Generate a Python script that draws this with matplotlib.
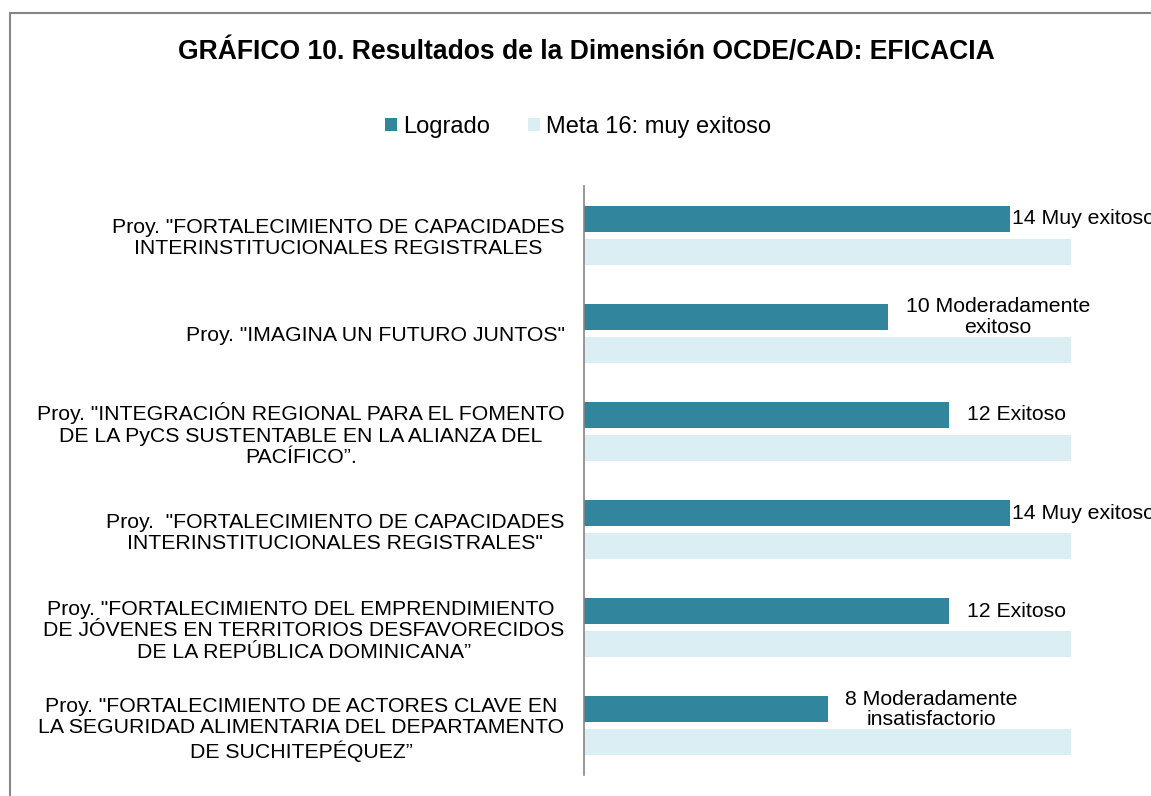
import matplotlib
matplotlib.use("Agg")
import matplotlib.pyplot as plt
from matplotlib.patches import Rectangle, Patch

plt.rcParams['font.family'] = ['Liberation Sans', 'DejaVu Sans']

categories = [
    'Proy. "FORTALECIMIENTO DE CAPACIDADES\nINTERINSTITUCIONALES REGISTRALES',
    'Proy. "IMAGINA UN FUTURO JUNTOS"',
    'Proy. "INTEGRACIÓN REGIONAL PARA EL FOMENTO\nDE LA PyCS SUSTENTABLE EN LA ALIANZA DEL\nPACÍFICO”.',
    'Proy.  "FORTALECIMIENTO DE CAPACIDADES\nINTERINSTITUCIONALES REGISTRALES"',
    'Proy. "FORTALECIMIENTO DEL EMPRENDIMIENTO \nDE JÓVENES EN TERRITORIOS DESFAVORECIDOS\nDE LA REPÚBLICA DOMINICANA”',
    'Proy. "FORTALECIMIENTO DE ACTORES CLAVE EN\nLA SEGURIDAD ALIMENTARIA DEL DEPARTAMENTO\nDE SUCHITEPÉQUEZ”',
]
logrado = [14, 10, 12, 14, 12, 8]
meta = [16, 16, 16, 16, 16, 16]
value_labels = [
    '14 Muy exitoso',
    '10 Moderadamente\nexitoso',
    '12 Exitoso',
    '14 Muy exitoso',
    '12 Exitoso',
    '8 Moderadamente\ninsatisfactorio',
]
series_names = ['Logrado', 'Meta 16: muy exitoso']
title = 'GRÁFICO 10. Resultados de la Dimensión OCDE/CAD: EFICACIA'

DARK = '#31859C'
LIGHT = '#DAEEF3'
GRAY = '#868686'

W, H = 1151, 796
fig = plt.figure(figsize=(W / 100, H / 100), dpi=100)

# outer chart frame
fig.patches.append(Rectangle((10 / W, -0.1), 1.2, (H - 13) / H + 0.1,
                             transform=fig.transFigure, fill=False,
                             edgecolor=GRAY, linewidth=1.5))

ax_left, ax_right = 584, 1151
ax_top, ax_bottom = 186, 775
ax = fig.add_axes([ax_left / W, (H - ax_bottom) / H,
                   (ax_right - ax_left) / W, (ax_bottom - ax_top) / H])

n = len(categories)
y = list(range(n))
off = 0.168
h = 0.265
ax.barh([v - off for v in y], logrado, height=h, color=DARK, label=series_names[0])
ax.barh([v + off for v in y], meta, height=h, color=LIGHT, label=series_names[1])

ax.set_ylim(n - 0.5, -0.5)
ax.set_xlim(0, (ax_right - ax_left) / 30.44)
ax.set_yticks(y)
ax.set_yticklabels(categories, fontsize=15.3, ha='right', multialignment='center',
                   linespacing=1.16)
ax.tick_params(axis='y', length=0, pad=14)
ax.set_xticks([])
for s in ['top', 'right', 'bottom']:
    ax.spines[s].set_visible(False)
ax.spines['left'].set_color(GRAY)
ax.spines['left'].set_linewidth(1.2)

for yi, val, txt in zip(y, logrado, value_labels):
    dx = 1.5 if val >= 14 else 12.5
    ax.annotate(txt, xy=(val, yi - off), xytext=(dx, 0), textcoords='offset points',
                ha='left', va='center', multialignment='center', fontsize=15.3,
                linespacing=1.12, color='black', annotation_clip=False, clip_on=False)

fig.text(586 / W, 1 - 52 / H, title, ha='center', va='center',
         fontsize=19.1, fontweight='bold')

handles = [Patch(facecolor=DARK, edgecolor='none'), Patch(facecolor=LIGHT, edgecolor='none')]
fig.legend(handles, series_names, loc='center', bbox_to_anchor=(578 / W, 1 - 127 / H),
           ncol=2, frameon=False, fontsize=17, handlelength=0.5, handleheight=0.5,
           handletextpad=0.25, columnspacing=1.63)

fig.savefig('out.png', dpi=100)
